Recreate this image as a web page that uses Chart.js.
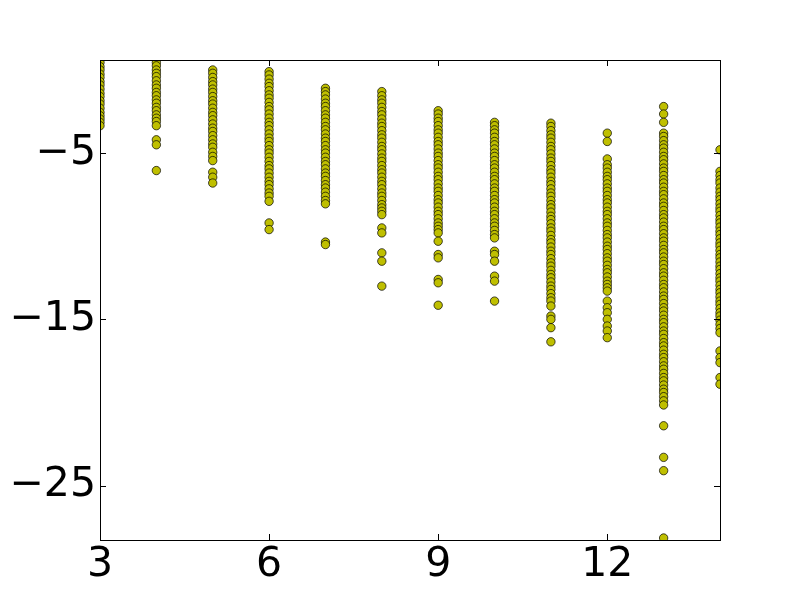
<!DOCTYPE html>
<html>
<head>
<meta charset="utf-8">
<script src="https://cdn.jsdelivr.net/npm/chart.js@4"></script>
<style>
  body { margin: 0; background: #fff; }
  canvas { display: block; }
</style>
</head>
<body>
<canvas id="myChart" width="800" height="600"></canvas>
<script>
// x positions of the columns
const columns = [3, 4, 5, 6, 7, 8, 9, 10, 11, 12, 13, 14];

// y values
const ys3 = [0.45, 0.2, 0.0, -0.25, -0.45, -0.7, -0.9, -1.15, -1.4, -1.6, -1.85, -2.05, -2.3, -2.55, -2.75, -2.95, -3.15, -3.35];
const ys4 = [0.45, 0.25, 0.0, -0.2, -0.4, -0.65, -0.9, -1.1, -1.35, -1.55, -1.8, -2.0, -2.25, -2.45, -2.7, -2.9, -3.1, -3.35, -4.2, -4.5, -6.05];
const ys5 = [0.0, -0.2, -0.45, -0.7, -0.9, -1.15, -1.35, -1.6, -1.85, -2.05, -2.3, -2.55, -2.75, -3.0, -3.25, -3.5, -3.7, -3.95, -4.2, -4.45, -4.65, -4.95, -5.2, -5.45, -6.15, -6.45, -6.8];
const ys6 = [-0.1, -0.3, -0.55, -0.8, -1.0, -1.25, -1.5, -1.7, -1.95, -2.2, -2.4, -2.65, -2.9, -3.15, -3.35, -3.6, -3.85, -4.1, -4.3, -4.55, -4.8, -5.0, -5.25, -5.5, -5.75, -5.95, -6.2, -6.45, -6.7, -6.9, -7.15, -7.4, -7.6, -7.9, -9.2, -9.6];
const ys7 = [-1.1, -1.3, -1.5, -1.75, -2.0, -2.2, -2.45, -2.7, -2.9, -3.15, -3.4, -3.6, -3.85, -4.1, -4.3, -4.55, -4.8, -5.0, -5.25, -5.5, -5.7, -5.95, -6.2, -6.4, -6.65, -6.9, -7.1, -7.35, -7.6, -7.85, -8.05, -10.35, -10.5];
const ys8 = [-1.3, -1.55, -1.8, -2.0, -2.25, -2.5, -2.7, -2.95, -3.2, -3.4, -3.65, -3.9, -4.1, -4.35, -4.6, -4.8, -5.05, -5.3, -5.5, -5.75, -6.0, -6.2, -6.45, -6.7, -6.9, -7.15, -7.4, -7.6, -7.85, -8.1, -8.3, -8.5, -8.7, -9.5, -9.8, -11.0, -11.5, -13.0];
const ys9 = [-2.45, -2.65, -2.9, -3.1, -3.35, -3.6, -3.8, -4.05, -4.3, -4.5, -4.75, -5.0, -5.2, -5.45, -5.7, -5.9, -6.15, -6.4, -6.6, -6.85, -7.1, -7.3, -7.55, -7.8, -8.0, -8.25, -8.5, -8.7, -8.95, -9.2, -9.4, -9.6, -9.8, -10.3, -11.1, -11.3, -12.6, -12.8, -14.15];
const ys10 = [-3.15, -3.35, -3.6, -3.8, -4.05, -4.3, -4.5, -4.75, -5.0, -5.2, -5.45, -5.7, -5.9, -6.15, -6.4, -6.6, -6.85, -7.1, -7.3, -7.55, -7.8, -8.0, -8.25, -8.5, -8.7, -8.95, -9.2, -9.4, -9.65, -9.9, -10.1, -10.9, -11.1, -11.5, -12.4, -12.7, -13.9];
const ys11 = [-3.2, -3.4, -3.65, -3.9, -4.1, -4.35, -4.6, -4.8, -5.05, -5.3, -5.5, -5.75, -6.0, -6.2, -6.45, -6.7, -6.9, -7.15, -7.4, -7.6, -7.85, -8.1, -8.3, -8.55, -8.8, -9.0, -9.25, -9.5, -9.7, -9.95, -10.2, -10.4, -10.65, -10.9, -11.1, -11.35, -11.6, -11.8, -12.05, -12.3, -12.5, -12.75, -13.0, -13.2, -13.45, -13.7, -13.9, -14.2, -14.8, -15.0, -15.5, -16.35];
const ys12 = [-3.8, -4.3, -5.35, -5.7, -5.9, -6.15, -6.4, -6.6, -6.85, -7.1, -7.3, -7.55, -7.8, -8.0, -8.25, -8.5, -8.7, -8.95, -9.2, -9.4, -9.65, -9.9, -10.1, -10.35, -10.6, -10.8, -11.05, -11.3, -11.5, -11.75, -12.0, -12.2, -12.45, -12.7, -12.9, -13.1, -13.3, -13.9, -14.3, -14.6, -15.0, -15.4, -15.7, -16.1];
const ys13 = [-2.2, -2.65, -3.15, -3.8, -4.0, -4.25, -4.5, -4.7, -4.95, -5.2, -5.4, -5.65, -5.9, -6.1, -6.35, -6.6, -6.8, -7.05, -7.3, -7.5, -7.75, -8.0, -8.2, -8.45, -8.7, -8.9, -9.15, -9.4, -9.6, -9.85, -10.1, -10.3, -10.55, -10.8, -11.0, -11.25, -11.5, -11.7, -11.95, -12.2, -12.4, -12.65, -12.9, -13.1, -13.35, -13.6, -13.8, -14.05, -14.3, -14.5, -14.75, -15.0, -15.2, -15.45, -15.7, -15.9, -16.15, -16.4, -16.6, -16.85, -17.1, -17.3, -17.55, -17.8, -18.0, -18.25, -18.5, -18.7, -18.95, -19.2, -19.4, -19.65, -19.9, -20.15, -21.4, -23.3, -24.1, -28.15];
const ys14 = [-4.8, -6.1, -6.35, -6.6, -6.8, -7.1, -7.35, -7.6, -7.8, -8.05, -8.3, -8.5, -8.75, -9.0, -9.2, -9.45, -9.7, -9.9, -10.15, -10.4, -10.6, -10.85, -11.1, -11.3, -11.55, -11.8, -12.0, -12.25, -12.5, -12.7, -12.95, -13.2, -13.4, -13.65, -13.9, -14.1, -14.35, -14.6, -14.8, -15.05, -15.3, -15.55, -15.8, -16.9, -17.3, -17.6, -18.5, -18.9];

const columnValues = [ys3, ys4, ys5, ys6, ys7, ys8, ys9, ys10, ys11, ys12, ys13, ys14];

// axis ticks and limits
const xTicks = [3, 6, 9, 12];
const yTicks = [-25, -15, -5];
const xMin = 3, xMax = 14;
const yMin = -28.27, yMax = 0.6;

const points = [];
columns.forEach((x, i) => {
    columnValues[i].forEach(y => points.push({ x: x, y: y }));
});

const fmt = v => v < 0 ? '\u2212' + Math.abs(v) : String(v);

// matplotlib style box with inward ticks on all sides
const frame = {
    id: 'frame',
    afterDatasetsDraw(chart) {
        const { ctx, chartArea: a, scales: { x, y } } = chart;
        const len = 6;
        ctx.save();
        ctx.strokeStyle = '#000';
        ctx.lineWidth = 1;
        ctx.beginPath();
        x.ticks.forEach(t => {
            const px = Math.round(x.getPixelForValue(t.value)) + 0.5;
            ctx.moveTo(px, a.bottom); ctx.lineTo(px, a.bottom - len);
            ctx.moveTo(px, a.top); ctx.lineTo(px, a.top + len);
        });
        y.ticks.forEach(t => {
            const py = Math.round(y.getPixelForValue(t.value)) + 0.5;
            ctx.moveTo(a.left, py); ctx.lineTo(a.left + len, py);
            ctx.moveTo(a.right, py); ctx.lineTo(a.right - len, py);
        });
        ctx.stroke();
        ctx.strokeRect(Math.round(a.left) + 0.5, Math.round(a.top) + 0.5,
            Math.round(a.right - a.left), Math.round(a.bottom - a.top));
        ctx.restore();
    }
};

const tickFont = { family: 'DejaVu Sans', size: 41 };

new Chart(document.getElementById('myChart'), {
    type: 'scatter',
    data: {
        datasets: [{
            data: points,
            backgroundColor: '#bfbf00',
            borderColor: '#000',
            borderWidth: 0.7,
            pointRadius: 4.2,
            pointHoverRadius: 4.2,
            clip: 0
        }]
    },
    options: {
        responsive: false,
        animation: false,
        layout: { padding: { top: 60, right: 80, left: 0, bottom: 0 } },
        plugins: { legend: { display: false }, tooltip: { enabled: false } },
        scales: {
            x: {
                type: 'linear',
                min: xMin,
                max: xMax,
                afterBuildTicks: s => { s.ticks = xTicks.map(v => ({ value: v })); },
                afterFit: s => { s.height = 60; },
                grid: { display: false, drawTicks: false },
                border: { display: false },
                ticks: { color: '#000', font: tickFont, padding: 1, maxRotation: 0, callback: fmt }
            },
            y: {
                type: 'linear',
                min: yMin,
                max: yMax,
                afterBuildTicks: s => { s.ticks = yTicks.map(v => ({ value: v })); },
                afterFit: s => { s.width = 100; },
                grid: { display: false, drawTicks: false },
                border: { display: false },
                ticks: { color: '#000', font: tickFont, padding: 4, callback: fmt }
            }
        }
    },
    plugins: [frame]
});
</script>
</body>
</html>
